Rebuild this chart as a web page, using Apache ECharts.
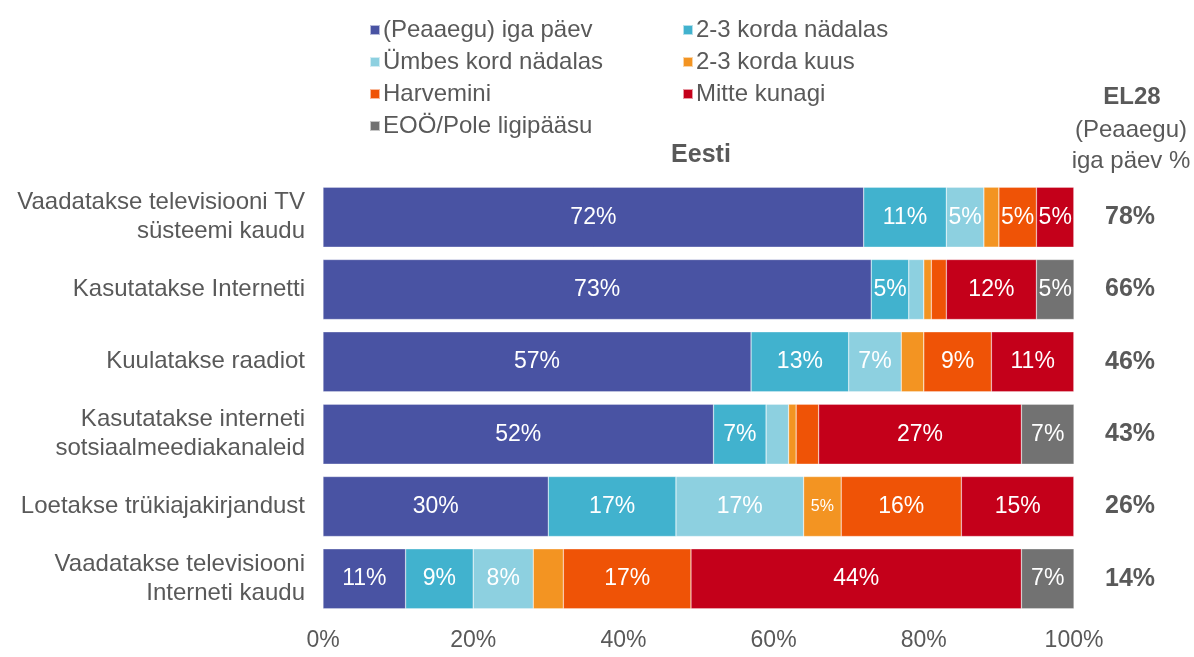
<!DOCTYPE html>
<html>
<head>
<meta charset="utf-8">
<script src="https://cdn.jsdelivr.net/npm/echarts@6/dist/echarts.min.js"></script>
<style>
    html, body { margin: 0; padding: 0; background: #fff; }
    #chart { width: 1194px; height: 657px; }
</style>
</head>
<body>
<div id="chart"></div>
<script>
const categories = [
    'Vaadatakse televisiooni TV\nsüsteemi kaudu',
    'Kasutatakse Internetti',
    'Kuulatakse raadiot',
    'Kasutatakse interneti\nsotsiaalmeediakanaleid',
    'Loetakse trükiajakirjandust',
    'Vaadatakse televisiooni\nInterneti kaudu',
]
const seriesNames = [
    '(Peaaegu) iga päev',
    '2-3 korda nädalas',
    'Ümbes kord nädalas',
    '2-3 korda kuus',
    'Harvemini',
    'Mitte kunagi',
    'EOÖ/Pole ligipääsu',
]
const dailyValues = [72, 73, 57, 52, 30, 11]
const weekly23Values = [11, 5, 13, 7, 17, 9]
const weeklyValues = [5, 2, 7, 3, 17, 8]
const monthly23Values = [2, 1, 3, 1, 5, 4]
const rarerValues = [5, 2, 9, 3, 16, 17]
const neverValues = [5, 12, 11, 27, 15, 44]
const dkValues = [0, 5, 0, 7, 0, 7]
const el28Values = [78, 66, 46, 43, 26, 14]
const xTicks = [0, 20, 40, 60, 80, 100]

const colors = ['#4953A3', '#41B2CE', '#8DD0E0', '#F39422', '#EF5306', '#C4001A', '#727272']
const allValues = [dailyValues, weekly23Values, weeklyValues, monthly23Values, rarerValues, neverValues, dkValues]
const textColor = '#595959'
const font = 'Liberation Sans, Arial, sans-serif'

const chart = echarts.init(document.getElementById('chart'), null, { renderer: 'canvas' })

const legendItem = (names, left) => ({
    orient: 'vertical',
    left,
    top: 13,
    itemGap: 8,
    itemWidth: 10,
    itemHeight: 10,
    icon: 'rect',
    selectedMode: false,
    data: names,
    textStyle: { fontFamily: font, fontSize: 24, lineHeight: 24, color: textColor, padding: [0, 0, 0, -2] },
})

chart.setOption({
    backgroundColor: '#fff',
    animation: false,
    color: colors,
    legend: [
        legendItem([seriesNames[0], seriesNames[2], seriesNames[4], seriesNames[6]], 364),
        legendItem([seriesNames[1], seriesNames[3], seriesNames[5]], 677),
    ],
    grid: { left: 323, right: 120, top: 181, bottom: 42 },
    xAxis: {
        type: 'value',
        min: 0,
        max: 100,
        interval: 20,
        axisLine: { show: false },
        axisTick: { show: false },
        splitLine: { show: false },
        axisLabel: {
            formatter: v => xTicks.includes(v) ? v + '%' : '',
            fontFamily: font, fontSize: 23, color: textColor, margin: 14,
        },
    },
    yAxis: [
        {
            type: 'category',
            inverse: true,
            data: categories,
            axisLine: { show: false },
            axisTick: { show: false },
            axisLabel: {
                fontFamily: font, fontSize: 24, color: textColor, lineHeight: 29, margin: 18, align: 'right',
            },
        },
        {
            type: 'category',
            inverse: true,
            position: 'right',
            data: el28Values.map(v => v + '%'),
            axisLine: { show: false },
            axisTick: { show: false },
            axisLabel: {
                fontFamily: font, fontSize: 25, fontWeight: 'bold', color: textColor, margin: 31, align: 'left',
            },
        },
    ],
    graphic: [
        { type: 'text', style: { text: 'Eesti', x: 701, y: 143, fontFamily: font, fontSize: 25, fontWeight: 'bold', fill: textColor, align: 'center' } },
        { type: 'text', style: { text: 'EL28', x: 1132, y: 85, fontFamily: font, fontSize: 24, fontWeight: 'bold', fill: textColor, align: 'center' } },
        { type: 'text', style: { text: '(Peaaegu)', x: 1131, y: 118, fontFamily: font, fontSize: 24, fill: textColor, align: 'center' } },
        { type: 'text', style: { text: 'iga päev %', x: 1131, y: 149, fontFamily: font, fontSize: 24, fill: textColor, align: 'center' } },
    ],
    series: seriesNames.map((name, i) => ({
        name,
        type: 'bar',
        stack: 'total',
        barWidth: 60,
        data: allValues[i],
        itemStyle: { color: colors[i], borderColor: 'rgba(255,255,255,0.6)', borderWidth: 0.5 },
        label: {
            show: true,
            position: 'inside',
            color: '#fff',
            fontFamily: font,
            fontSize: i === 3 ? 16 : 23,
            formatter: p => p.value >= 5 ? p.value + '%' : '',
        },
    })),
})
</script>
</body>
</html>
